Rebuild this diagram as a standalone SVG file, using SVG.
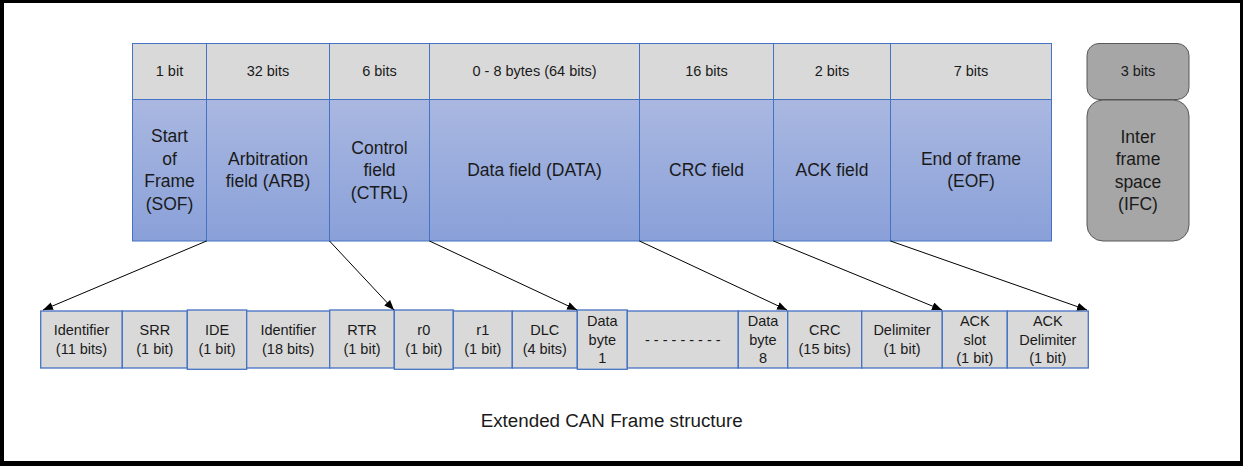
<svg xmlns="http://www.w3.org/2000/svg" width="1243" height="466" viewBox="0 0 1243 466">
<style>
text{font-family:"Liberation Sans",Arial,sans-serif;fill:#1a1a1a;text-anchor:middle}
.s{font-size:14.5px}
.b{font-size:17.5px}
.g{fill:#d9d9d9;stroke:#4472c4;stroke-width:1}
.bl{fill:url(#grad);stroke:#4472c4;stroke-width:1}
.f{fill:#d9d9d9;stroke:#4472c4;stroke-width:1.3}
.ifs{fill:#a6a6a6;stroke:#595959;stroke-width:1}
.c{stroke:#000;stroke-width:1;fill:none;marker-end:url(#ah)}
</style>
<defs>
<linearGradient id="grad" x1="0" y1="0" x2="0" y2="1">
<stop offset="0" stop-color="#aab8e1"/>
<stop offset="1" stop-color="#89a0d8"/>
</linearGradient>
<marker id="ah" markerUnits="userSpaceOnUse" markerWidth="11" markerHeight="9" refX="10" refY="4" orient="auto">
<path d="M0,0 L10,4 L0,8 z" fill="#000"/>
</marker>
</defs>
<rect x="0" y="0" width="1243" height="466" fill="#000"/>
<rect x="4" y="3" width="1236" height="458" fill="#fff"/>

<g id="sof">
<rect class="g" x="132.5" y="43.5" width="74" height="56"/>
<rect class="bl" x="132.5" y="99.5" width="74" height="141.5"/>
<text class="s" x="169.5" y="76">1 bit</text>
<text class="b" x="169.5" y="142">Start</text>
<text class="b" x="169.5" y="164.5">of</text>
<text class="b" x="169.5" y="187">Frame</text>
<text class="b" x="169.5" y="209.5">(SOF)</text>
</g>
<g id="arb">
<rect class="g" x="206.5" y="43.5" width="123" height="56"/>
<rect class="bl" x="206.5" y="99.5" width="123" height="141.5"/>
<text class="s" x="268" y="76">32 bits</text>
<text class="b" x="268" y="164.75">Arbitration</text>
<text class="b" x="268" y="187.25">field (ARB)</text>
</g>
<g id="ctrl">
<rect class="g" x="329.5" y="43.5" width="100" height="56"/>
<rect class="bl" x="329.5" y="99.5" width="100" height="141.5"/>
<text class="s" x="379.5" y="76">6 bits</text>
<text class="b" x="379.5" y="153.5">Control</text>
<text class="b" x="379.5" y="176">field</text>
<text class="b" x="379.5" y="198.5">(CTRL)</text>
</g>
<g id="data">
<rect class="g" x="429.5" y="43.5" width="210" height="56"/>
<rect class="bl" x="429.5" y="99.5" width="210" height="141.5"/>
<text class="s" x="534.5" y="76">0 - 8 bytes (64 bits)</text>
<text class="b" x="534.5" y="176">Data field (DATA)</text>
</g>
<g id="crc">
<rect class="g" x="639.5" y="43.5" width="134" height="56"/>
<rect class="bl" x="639.5" y="99.5" width="134" height="141.5"/>
<text class="s" x="706.5" y="76">16 bits</text>
<text class="b" x="706.5" y="176">CRC field</text>
</g>
<g id="ack">
<rect class="g" x="773.5" y="43.5" width="117" height="56"/>
<rect class="bl" x="773.5" y="99.5" width="117" height="141.5"/>
<text class="s" x="832" y="76">2 bits</text>
<text class="b" x="832" y="176">ACK field</text>
</g>
<g id="eof">
<rect class="g" x="890.5" y="43.5" width="161" height="56"/>
<rect class="bl" x="890.5" y="99.5" width="161" height="141.5"/>
<text class="s" x="971" y="76">7 bits</text>
<text class="b" x="971" y="164.75">End of frame</text>
<text class="b" x="971" y="187.25">(EOF)</text>
</g>
<g id="ifs">
<rect class="ifs" x="1087" y="43.5" width="102" height="56" rx="12"/>
<rect class="ifs" x="1087" y="100" width="102" height="141" rx="16"/>
<text class="s" x="1138" y="76">3 bits</text>
<text class="b" x="1138" y="142.5">Inter</text>
<text class="b" x="1138" y="165">frame</text>
<text class="b" x="1138" y="187.5">space</text>
<text class="b" x="1138" y="210">(IFC)</text>
</g>

<g id="id11">
<rect class="f" x="40.7" y="311" width="81.6" height="57"/>
<text class="s" x="81.5" y="335">Identifier</text>
<text class="s" x="81.5" y="354">(11 bits)</text>
</g>
<g id="srr">
<rect class="f" x="122.3" y="311" width="65" height="57"/>
<text class="s" x="154.8" y="335">SRR</text>
<text class="s" x="154.8" y="354">(1 bit)</text>
</g>
<g id="ide">
<rect class="f" x="187.3" y="310" width="59.4" height="59.3"/>
<text class="s" x="217" y="335">IDE</text>
<text class="s" x="217" y="354">(1 bit)</text>
</g>
<g id="id18">
<rect class="f" x="246.7" y="311" width="83" height="57"/>
<text class="s" x="288.2" y="335">Identifier</text>
<text class="s" x="288.2" y="354">(18 bits)</text>
</g>
<g id="rtr">
<rect class="f" x="329.7" y="310" width="64.6" height="58"/>
<text class="s" x="362" y="335">RTR</text>
<text class="s" x="362" y="354">(1 bit)</text>
</g>
<g id="r0">
<rect class="f" x="394.3" y="310" width="59" height="59.3"/>
<text class="s" x="423.8" y="335">r0</text>
<text class="s" x="423.8" y="354">(1 bit)</text>
</g>
<g id="r1">
<rect class="f" x="453.3" y="311" width="59" height="57"/>
<text class="s" x="482.8" y="335">r1</text>
<text class="s" x="482.8" y="354">(1 bit)</text>
</g>
<g id="dlc">
<rect class="f" x="512.3" y="311" width="65" height="57"/>
<text class="s" x="544.8" y="335">DLC</text>
<text class="s" x="544.8" y="354">(4 bits)</text>
</g>
<g id="db1">
<rect class="f" x="577.3" y="310" width="50" height="59.3"/>
<text class="s" x="602.3" y="325.7">Data</text>
<text class="s" x="602.3" y="344.5">byte</text>
<text class="s" x="602.3" y="363.3">1</text>
</g>
<g id="dots">
<rect class="f" x="627.3" y="311" width="111" height="57"/>
<text class="s" x="682.8" y="345">- - - - - - - - -</text>
</g>
<g id="db8">
<rect class="f" x="738.3" y="311" width="49.4" height="57"/>
<text class="s" x="763" y="325.7">Data</text>
<text class="s" x="763" y="344.5">byte</text>
<text class="s" x="763" y="363.3">8</text>
</g>
<g id="crc15">
<rect class="f" x="787.7" y="311" width="74" height="57"/>
<text class="s" x="824.7" y="335">CRC</text>
<text class="s" x="824.7" y="354">(15 bits)</text>
</g>
<g id="delim">
<rect class="f" x="861.7" y="311" width="80.6" height="57"/>
<text class="s" x="902" y="335">Delimiter</text>
<text class="s" x="902" y="354">(1 bit)</text>
</g>
<g id="ackslot">
<rect class="f" x="942.3" y="311" width="65" height="57"/>
<text class="s" x="974.8" y="325.7">ACK</text>
<text class="s" x="974.8" y="344.5">slot</text>
<text class="s" x="974.8" y="363.3">(1 bit)</text>
</g>
<g id="ackdelim">
<rect class="f" x="1007.3" y="311" width="81" height="57"/>
<text class="s" x="1047.8" y="325.7">ACK</text>
<text class="s" x="1047.8" y="344.5">Delimiter</text>
<text class="s" x="1047.8" y="363.3">(1 bit)</text>
</g>

<g id="connectors">
<line class="c" x1="206.5" y1="241" x2="43" y2="310"/>
<line class="c" x1="329.5" y1="241" x2="394" y2="310"/>
<line class="c" x1="429.5" y1="241" x2="577" y2="310"/>
<line class="c" x1="639.5" y1="241" x2="787" y2="310"/>
<line class="c" x1="773.5" y1="241" x2="942" y2="310"/>
<line class="c" x1="890.5" y1="241" x2="1087" y2="310"/>
</g>

<text id="title" x="611.7" y="427" style="font-size:18.8px">Extended CAN Frame structure</text>
</svg>
